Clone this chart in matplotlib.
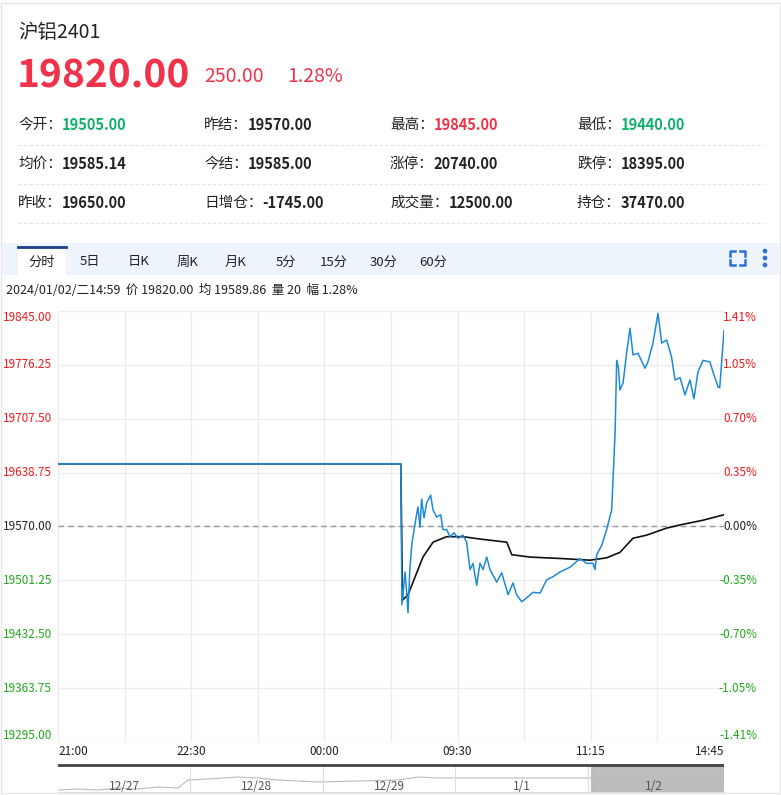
import matplotlib.pyplot as plt
import matplotlib.patches as mpatches
from matplotlib.lines import Line2D
from matplotlib.transforms import blended_transform_factory

plt.rcParams['font.family'] = ['Noto Sans CJK SC', 'DejaVu Sans']

W, H = 781, 795
RED = '#f0334a'
GREEN = '#10b06a'
AX_RED = '#f01c1c'
AX_GREEN = '#22a81c'
TXT = '#222222'

title = '沪铝2401'
last_price = '19820.00'
change = '250.00'
change_pct = '1.28%'
info_rows = [
    [('今开：', '19505.00', GREEN), ('昨结：', '19570.00', TXT), ('最高：', '19845.00', RED), ('最低：', '19440.00', GREEN)],
    [('均价：', '19585.14', TXT), ('今结：', '19585.00', TXT), ('涨停：', '20740.00', TXT), ('跌停：', '18395.00', TXT)],
    [('昨收：', '19650.00', TXT), ('日增仓：', '-1745.00', TXT), ('成交量：', '12500.00', TXT), ('持仓：', '37470.00', TXT)],
]
tabs = ['分时', '5日', '日K', '周K', '月K', '5分', '15分', '30分', '60分']
status = '2024/01/02/二14:59  价 19820.00  均 19589.86  量 20  幅 1.28%'

pre_close = 19570.0
y_ticks = [19845.00, 19776.25, 19707.50, 19638.75, 19570.00, 19501.25, 19432.50, 19363.75, 19295.00]
pct_labels = ['1.41%', '1.05%', '0.70%', '0.35%', '0.00%', '-0.35%', '-0.70%', '-1.05%', '-1.41%']
x_labels = ['21:00', '22:30', '00:00', '09:30', '11:15', '14:45']
x_label_pos = [0, 90, 180, 270, 360, 450]

# price line (minute index, price)
price_x = [0, 231.6, 232.4, 234.5, 235.6, 236.5, 237.8, 239.2, 241.9, 243.2, 244.6, 245.7, 247.3, 249.1,
           251.8, 253.4, 255.9, 258.6, 260.1, 262.6, 264.9, 267.6, 270.3, 273.6, 276.1, 278.4, 280.4,
           282.9, 285.1, 287.2, 289.7, 291.9, 296.4, 299.8, 304.1, 307.4, 309.9, 313.3, 316.7, 320.9,
           325.7, 330.2, 334.5, 339.2, 345.9, 352.7, 357.2, 361.5, 362.8, 364, 367.4, 370.7, 374.1,
           376.4, 377.5, 378.6, 379.7, 381.8, 384.3, 386.5, 388.5, 391.9, 396.6, 398.6, 402, 405.4,
           407.9, 411.3, 414.6, 416.9, 420.3, 423.6, 427, 429.7, 432.4, 435.8, 440.5, 442.6, 446,
           447.1, 450]
price_y = [19650, 19650, 19470, 19512, 19485, 19460, 19518, 19549, 19581, 19595, 19569, 19605, 19581, 19600,
           19610, 19591, 19582, 19585, 19566, 19566, 19557, 19562, 19555, 19559, 19550, 19515, 19523,
           19495, 19523, 19515, 19531, 19515, 19499, 19511, 19483, 19498, 19483, 19474, 19479, 19486,
           19485, 19502, 19506, 19512, 19518, 19529, 19523, 19523, 19515, 19534, 19546, 19566, 19591,
           19689, 19782, 19774, 19744, 19753, 19793, 19823, 19789, 19791, 19772, 19780, 19804, 19842,
           19804, 19808, 19786, 19757, 19760, 19738, 19757, 19733, 19767, 19782, 19780, 19767, 19748,
           19747, 19820]
avg_x = [0, 231.6, 232.8, 236.5, 242.4, 246.6, 253.4, 262.6, 273.6, 285.1, 303.2, 306.6, 318.9, 341.2,
         359.5, 370.7, 379.7, 388.5, 397.8, 411.3, 420.3, 435.8, 450]
avg_y = [19650, 19650, 19476, 19483, 19511, 19531, 19550, 19557, 19557, 19554, 19550, 19534, 19531, 19529,
         19527, 19530, 19537, 19555, 19559, 19568, 19572, 19578, 19585]

nav_dates = ['12/27', '12/28', '12/29', '1/1', '1/2']
nav_x = [0, 20, 40, 60, 80, 100, 120, 130, 150, 180, 200, 220, 260, 300, 340, 360, 380, 430, 460, 500, 540, 560, 580, 600, 610, 625, 640, 660]
nav_y = [2, 3, 2, 4, 3, 5, 4, 12, 13, 15, 14, 12, 10, 11, 12, 15, 14, 14, 14, 14, 14, 11, 12, 10, 15, 16, 14, 14]


def fx(px):
    return px / W


def fy(py):
    return 1 - py / H


fig = plt.figure(figsize=(W / 100, H / 100), dpi=100)
fig.patch.set_facecolor('white')
fig.add_artist(mpatches.Rectangle((fx(1), fy(793)), fx(779), 792 / H - 0.003, transform=fig.transFigure,
                                  fill=False, edgecolor='#e6e6e6', lw=1))

fig.text(fx(18), fy(33), title, fontsize=14, color=TXT, va='center')
fig.text(fx(17), fy(76), last_price, fontsize=28, color=RED, weight='bold', va='center')
fig.text(fx(204), fy(76), change, fontsize=14, color=RED, va='center')
fig.text(fx(287), fy(76), change_pct, fontsize=14, color=RED, va='center')

renderer = fig.canvas.get_renderer()
col_x = [18, 204, 390, 577]
for r, row in enumerate(info_rows):
    yy = 125 + r * 39
    for c, (lab, val, col) in enumerate(row):
        t = fig.text(fx(col_x[c]), fy(yy), lab, fontsize=10.5, color=TXT, va='center')
        bb = t.get_window_extent(renderer=renderer)
        fig.text(bb.x1 / W, fy(yy), val, fontsize=10.5, color=col, weight='bold', va='center')
    fig.add_artist(Line2D([fx(18), fx(764)], [fy(yy + 20)] * 2, transform=fig.transFigure,
                          color='#e3e3e3', lw=0.8, ls=(0, (3, 2))))

# tab bar
fig.add_artist(mpatches.Rectangle((fx(2), fy(275)), fx(777), 32 / H, transform=fig.transFigure,
                                  facecolor='#eef4fc', edgecolor='none'))
fig.add_artist(mpatches.Rectangle((fx(18), fy(275)), fx(48), 28 / H, transform=fig.transFigure,
                                  facecolor='white', edgecolor='none'))
fig.add_artist(Line2D([fx(18), fx(66)], [fy(247)] * 2, transform=fig.transFigure, color='#1a3f8a', lw=2))
tab_x = [42, 90, 139, 188, 236, 286, 334, 384, 433]
for tx, tname in zip(tab_x, tabs):
    fig.text(fx(tx), fy(262), tname, fontsize=9.5, color=TXT, ha='center', va='center')
# fullscreen icon corners
blue = '#2a6fd6'
for cx, cy, dx, dy in [(730, 251, 1, 1), (745, 251, -1, 1), (730, 265, 1, -1), (745, 265, -1, -1)]:
    fig.add_artist(Line2D([fx(cx + 5 * dx), fx(cx), fx(cx)], [fy(cy), fy(cy), fy(cy + 5 * dy)],
                          transform=fig.transFigure, color=blue, lw=1.8))
for dy in [251, 258, 265]:
    fig.add_artist(mpatches.Circle((fx(765), fy(dy)), 1.6 / W, transform=fig.transFigure, color=blue))
fig.text(fx(6), fy(290), status, fontsize=9, color=TXT, va='center')

# main chart
ax = fig.add_axes([fx(58), fy(742), fx(666), 431 / H])
ax.set_xlim(0, 450)
ax.set_ylim(y_ticks[-1], y_ticks[0])
for gx in range(0, 451, 45):
    ax.axvline(gx, color='#ececec', lw=1, zorder=0)
for gy in y_ticks:
    ax.axhline(gy, color='#ececec', lw=1, zorder=0)
ax.axhline(pre_close, color='#999999', lw=1, ls=(0, (4, 3)), zorder=1)
ax.plot(avg_x, avg_y, color='#111111', lw=1.2, zorder=2)
ax.plot(price_x, price_y, color='#1e8ad6', lw=1.1, zorder=3)
for s in ax.spines.values():
    s.set_visible(False)
ax.set_xticks([])
ax.set_yticks([])
lab_tr = blended_transform_factory(fig.transFigure, ax.transData)
for i, (v, p) in enumerate(zip(y_ticks, pct_labels)):
    col = AX_RED if v > pre_close else (AX_GREEN if v < pre_close else TXT)
    va = 'top' if i == 0 else ('bottom' if i == len(y_ticks) - 1 else 'center')
    fig.text(fx(3), v, f'{v:.2f}', fontsize=8.5, color=col, va=va, ha='left', transform=lab_tr)
    fig.text(fx(757), v, p, fontsize=8.5, color=col, va=va, ha='right', transform=lab_tr)
for xl, xp in zip(x_labels, x_label_pos):
    ha = 'left' if xp == 0 else ('right' if xp == 450 else 'center')
    ax.text(xp, y_ticks[-1] - 4, xl, fontsize=8.5, color=TXT, ha=ha, va='top', clip_on=False)

# navigator
nav = fig.add_axes([fx(58), fy(792), fx(666), 28 / H])
nav.set_xlim(0, 666)
nav.set_ylim(0, 28)
nav.plot(nav_x, nav_y, color='#bbbbbb', lw=0.8)
for xs in [132, 265, 397, 530]:
    nav.axvline(xs, color='#dddddd', lw=0.8)
for i, d in enumerate(nav_dates):
    nav.text(66 + i * 132.5, 6, d, fontsize=8.5, color='#555555', ha='center', va='center')
nav.add_patch(mpatches.Rectangle((533, 0), 133, 28, facecolor='#888888', alpha=0.55, edgecolor='#aaaaaa'))
nav.axhline(27.3, color='#444444', lw=2)
nav.set_xticks([])
nav.set_yticks([])
for s in ['top', 'left', 'right']:
    nav.spines[s].set_visible(False)
nav.spines['bottom'].set_color('#dddddd')

fig.savefig('out.png', dpi=100)
